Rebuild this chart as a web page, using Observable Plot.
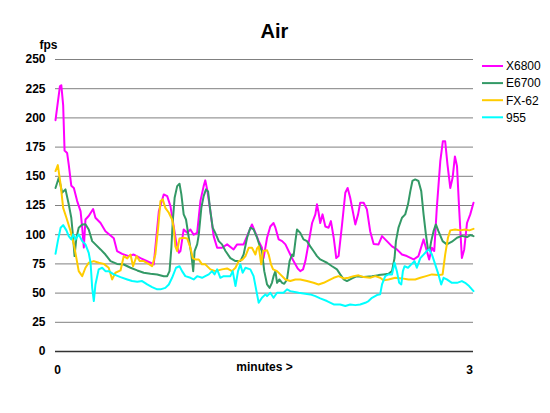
<!DOCTYPE html>
<html>
<head>
<meta charset="utf-8">
<script src="https://cdn.jsdelivr.net/npm/d3@7"></script>
<script src="https://cdn.jsdelivr.net/npm/@observablehq/plot@0.6"></script>
<style>
  body { margin: 0; background: #fff; }
  svg { display: block; font-family: "Liberation Sans", Arial, sans-serif; }
</style>
</head>
<body>
<div id="chart"></div>
<script>
// ---- data (time in seconds, fps) ----
const chartTitle = "Air";
const yLabel = "fps";
const xLabel = "minutes >";
const seriesNames = ["X6800", "E6700", "FX-62", "955"];
const seriesColors = ["#ff00ff", "#339966", "#ffcc00", "#00ffff"];
const yTicks = [0, 25, 50, 75, 100, 125, 150, 175, 200, 225, 250];
const xTickSeconds = [0, 180];
const xTickLabels = ["0", "3"];

const x6800Sec = [0,1.9,2.5,3.3,3.9,5.0,5.7,6.8,7.9,9.3,10.8,11.5,12.2,12.9,14.3,16.2,17.2,19.4,21.5,25.1,26.5,28.7,31.5,33.7,36.6,40.9,42.3,44.5,46.6,48.1,49.5,50.9,51.9,53.1,53.8,55.2,56.7,58.1,59.5,61.0,62.4,63.8,64.5,65.3,66.7,68.1,69.6,71.7,73.9,76.7,78.2,81.0,82.5,84.6,86.1,87.5,88.9,89.6,91.1,92.5,93.9,94.7,96.1,97.6,99.0,101.1,102.5,104.3,105.4,106.6,107.6,109.0,110.5,111.9,112.6,113.3,114.0,115.0,116.2,117.6,118.6,119.8,120.9,121.9,123.4,124.8,125.8,126.9,129.1,130.3,131.2,132.7,134.1,135.5,137.0,139.1,140.6,142.7,144.9,147.0,149.2,151.3,154.2,156.3,158.5,159.9,160.9,162.1,163.1,164.2,165.7,166.8,167.8,168.8,170.0,171.0,172.0,172.9,173.8,175.0,176.0,177.2,178.6,180];
const x6800Fps = [198,227,228,211,172,170,160,142,140,129,120,106,89,113,116,122,114.5,110,103,97,86,83.6,81.7,83,80,76,74.5,120,134.5,133,124.5,107,94.5,84.5,86,104.5,101.6,104.5,100,101.6,128.8,141.6,146.5,138.8,120,98.8,88.8,88.8,91.7,87.4,91.7,91.7,98.8,108.8,101.6,94.5,88.8,80,97.4,107,110,106,96,94.5,91.7,83,77.4,71,68.8,70.3,77.4,93,110,117.4,126,118.8,110,117.4,107,106,111.6,97.4,80,81.7,108.8,135.9,140,131.6,108.8,117.4,127.3,127.3,121.7,103,92,91.7,98.8,94.5,90,87.4,83,81.7,78.8,81.7,96,86,78.8,88.8,86,123,163,180,180,160,140,148.7,167,158.7,123,80,87.4,110,117.4,127.3];

const e6700Sec = [0,1.4,2.9,4.3,5.7,6.8,7.6,8.2,9.0,10.0,11.5,12.9,14.3,15.8,17.2,19.4,21.5,23.7,26.5,29.4,32.3,35.2,38.0,40.9,43.8,46.6,48.1,49.1,49.9,50.5,51.3,52.4,53.4,54.2,55.2,56.2,57.4,58.5,59.3,59.9,61.0,61.7,62.8,63.8,64.8,65.7,66.7,67.7,68.8,70.3,71.7,73.2,75.3,77.5,79.6,81.0,82.5,83.9,85.3,86.8,88.2,88.9,89.9,91.1,92.2,93.2,93.9,94.7,95.4,96.4,97.6,98.5,99.7,100.8,101.9,102.5,103.3,104.0,105.4,106.8,108.3,109.7,111.1,112.6,114.0,115.5,116.9,119.1,121.2,122.6,124.1,125.5,127.7,129.8,132.7,136.3,139.1,141.3,143.4,144.9,146.0,146.6,147.7,149.2,150.6,151.8,152.8,153.7,154.9,156.3,157.5,158.5,159.5,160.4,161.1,161.8,162.8,163.8,164.9,166.7,168.5,170.7,172.9,175.0,177.2,178.6,180];
const e6700Fps = [140,148.7,136,138.8,126,114.5,97.4,81.7,97.4,106,108.8,109,104.5,94.5,91.7,87.4,83,77.4,75,74.5,71.7,69.4,67.4,66.5,66,64.5,64.5,68.8,88.8,111.6,131.6,141.6,143.6,134.5,117.4,113,97.4,83,68.8,86,91.7,100,123,133,138.8,137,120,106,101.6,94.5,91.7,86,80,77.4,77.4,83,97.4,106,104.5,97.4,88.8,86,68.8,57.4,54.5,58.8,64.5,68.8,58.8,61.7,58.8,58,61.7,77.4,83,81.7,94.5,104.5,101.6,96,94.5,90,86,81.7,78.8,77.4,76,73,70.3,66,61.7,60.3,62.6,64.5,63.7,64.5,65.4,66,66.5,68.8,80,94.5,106,114.5,117.4,126,137.3,146,147.3,146,137.3,117.4,100.3,87.4,86.5,94.5,103,108.8,103,94.5,91.7,94,97.4,99,98,99.7,98.8];

const fx62Sec = [0,1.0,2.2,3.3,4.7,6.5,7.9,9.0,10.0,11.5,12.9,14.3,16.5,18.6,20.8,22.9,24.4,25.8,28.0,29.4,30.9,32.3,33.4,34.9,36.3,38.0,40.1,41.6,43.0,44.2,45.2,46.2,47.3,48.8,50.2,50.9,51.6,52.4,53.4,55.2,56.7,58.1,59.1,60.2,61.7,63.1,64.5,66.7,68.8,71.7,73.9,76.0,77.5,78.9,80.6,81.8,83.2,84.6,86.1,86.8,87.5,88.6,89.4,91.1,91.8,92.8,93.7,95.4,96.8,99.0,101.1,103.3,105.4,108.3,111.1,113.3,115.5,117.6,119.8,121.9,124.1,126.2,128.4,130.5,132.7,135.5,137.7,139.8,141.3,143.4,146.3,149.2,152.0,154.9,157.1,159.2,162.1,164.9,166.7,167.8,169.0,170.0,172.1,174.3,176.4,178.2,180];
const fx62Fps = [154.5,159.6,143,123,114.5,103,91.7,80,68.8,64.5,71.7,76,77.4,76,75,71.7,61.7,67.4,69.4,81.7,79.7,83,73,81.7,77.4,77.4,75,73,83,106,128.8,130.2,123,118.8,113,106,90,86,96.8,97.4,96.8,88.8,80,78.8,78.8,74.6,74.6,70.3,68.8,70.3,71.1,68.8,71.7,77.4,78.8,81.7,88.8,88.8,83,88.3,90,74.6,86,86.6,83,74.6,70.3,68.8,66,61.7,60.3,61.7,61.7,60.3,58.8,57.4,58.8,60.9,63.1,64.5,62.6,63.1,64.5,65.2,63.7,63.1,64.5,63.1,60.9,61.7,63.1,62.6,61.7,61.7,63.1,64.3,66,65.4,66,83,97.4,103.7,104.5,103.7,104.5,103.7,105];

const s955Sec = [0,1.0,2.2,3.3,4.7,5.7,6.8,7.6,8.6,10.0,11.5,12.9,14.3,15.1,15.8,16.5,17.2,18.6,20.1,21.5,22.9,25.1,28.0,30.9,33.0,35.2,37.3,39.5,41.6,43.8,45.2,47.3,48.8,50.2,51.9,53.4,54.5,55.9,58.1,59.5,61.0,63.1,64.5,66.0,67.4,68.5,69.6,71.0,72.4,75.3,76.3,77.5,78.6,79.6,80.6,81.8,83.9,85.3,86.8,87.5,88.9,90.4,91.1,92.5,93.9,95.4,98.2,99.7,101.1,104.7,109.7,111.9,114.0,116.9,119.8,122.6,124.8,126.9,129.1,131.2,133.4,134.8,136.3,138.4,139.8,140.6,142.0,143.4,144.9,146.0,147.0,148.0,148.9,149.6,150.3,151.8,153.2,154.6,155.6,157.1,158.5,159.9,160.9,162.1,163.5,164.9,166.1,167.1,168.5,170.7,172.9,175.0,176.4,178.1,180];
const s955Fps = [83.6,94.5,106,108.2,103.7,98.8,96,100.3,96,100.3,94.5,91.7,84.5,76,54.5,43.2,57.4,70.3,71.7,68.8,68.8,66,63.7,61.7,60.3,59.7,60.3,57.4,55.1,53.2,53.2,54.5,57.4,63.1,71.7,73,68.8,64.5,63.1,61.7,64.5,63.1,64.5,66,68.8,66,70.3,63.1,64.5,64.5,68.8,56,68.8,74.6,67.4,71.7,70.3,64.5,48.9,41.7,46,48.9,47.4,50.3,46,50.3,50.3,53.2,51.7,50.3,48.9,47.4,45.5,43.2,40.3,40.3,38.9,40.3,39.7,40.3,41.7,43.2,46,48.3,48.9,57.4,64.5,66,66,76,68.8,58.8,57.4,68.8,73,71.7,74.6,77.4,71.7,80,83,86,87.4,83,74.6,66,57.4,63.1,61.7,58.8,58.8,60.3,58.8,56,51.7];

// ---- build table ----
const seriesSec = [x6800Sec, e6700Sec, fx62Sec, s955Sec];
const seriesFps = [x6800Fps, e6700Fps, fx62Fps, s955Fps];
const rows = [];
seriesNames.forEach((name, k) => {
  seriesSec[k].forEach((s, i) => rows.push({series: name, sec: s, fps: seriesFps[k][i]}));
});

const plot = Plot.plot({
  width: 550,
  height: 413,
  marginLeft: 55,
  marginRight: 77,
  marginTop: 59,
  marginBottom: 62,
  style: {fontFamily: "'Liberation Sans', Arial, sans-serif", background: "#fff"},
  x: {domain: [0, 180], axis: null},
  y: {domain: [0, 250], axis: null},
  color: {domain: seriesNames, range: seriesColors},
  marks: [
    Plot.gridY(yTicks, {stroke: "#808080", strokeOpacity: 1, strokeWidth: 1}),
    Plot.ruleY([0], {stroke: "#333333", strokeWidth: 1.6}),
    Plot.axisY(yTicks, {tickSize: 0, tickPadding: 10, fontSize: 12, fontWeight: "bold", fill: "#000", label: null}),
    Plot.line(rows, {x: "sec", y: "fps", z: "series", stroke: "series", strokeWidth: 2}),
    Plot.text([xTickSeconds[0]], {x: d => d, y: 0, text: () => xTickLabels[0], dx: 2, dy: 19, fontSize: 12, fontWeight: "bold", fill: "#000"}),
    Plot.text([xTickSeconds[1]], {x: d => d, y: 0, text: () => xTickLabels[1], dx: -4, dy: 19, fontSize: 12, fontWeight: "bold", fill: "#000"}),
    Plot.text([xLabel], {frameAnchor: "bottom", text: d => d, dy: 19, fontSize: 12, fontWeight: "bold", fill: "#000"})
  ]
});

const svg = d3.select(plot);
svg.append("text")
  .attr("x", 274.5).attr("y", 38)
  .attr("text-anchor", "middle")
  .attr("font-size", 20).attr("font-weight", "bold").attr("fill", "#000")
  .text(chartTitle);
svg.append("text")
  .attr("x", 48.5).attr("y", 48.5)
  .attr("text-anchor", "middle")
  .attr("font-size", 12).attr("font-weight", "bold").attr("fill", "#000")
  .text(yLabel);

const legend = svg.append("g");
seriesNames.forEach((name, i) => {
  const y = 66 + i * 17.1;
  legend.append("line")
    .attr("x1", 482).attr("x2", 503).attr("y1", y).attr("y2", y)
    .attr("stroke", seriesColors[i]).attr("stroke-width", 2);
  legend.append("text")
    .attr("x", 506).attr("y", y).attr("dy", "0.36em")
    .attr("text-anchor", "start")
    .attr("font-size", 12).attr("fill", "#000")
    .text(name);
});

document.getElementById("chart").appendChild(plot);
</script>
</body>
</html>
